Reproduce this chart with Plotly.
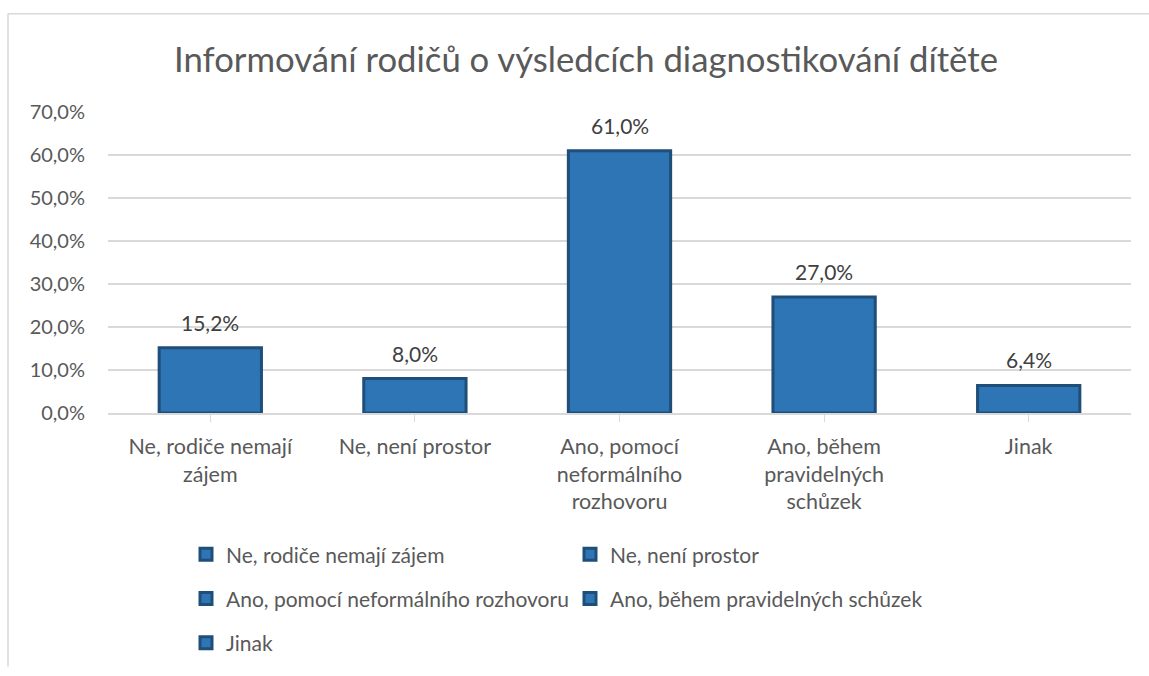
import plotly.graph_objects as go

categories = [
    "Ne, rodiče nemají zájem",
    "Ne, není prostor",
    "Ano, pomocí neformálního rozhovoru",
    "Ano, během pravidelných schůzek",
    "Jinak",
]
tick_labels = [
    "Ne, rodiče nemají<br>zájem",
    "Ne, není prostor",
    "Ano, pomocí<br>neformálního<br>rozhovoru",
    "Ano, během<br>pravidelných<br>schůzek",
    "Jinak",
]
values = [0.152, 0.080, 0.610, 0.270, 0.064]
title_text = "Informování rodičů o výsledcích diagnostikování dítěte"

FONT = "Lato"
GRAY = "#595959"
FILL = "#2E75B6"
EDGE = "#1F4E79"

fig = go.Figure()
legend_ids = ["legend", "legend", "legend2", "legend2", "legend3"]
for i, (cat, val) in enumerate(zip(categories, values)):
    fig.add_trace(go.Bar(
        x=[i], y=[val], name=cat, width=0.5,
        marker=dict(color=FILL, line=dict(color=EDGE, width=3)),
        legend=legend_ids[i], showlegend=True,
        hoverinfo="skip",
    ))
    fig.add_annotation(
        x=i, y=val, text=f"{val*100:.1f}%".replace(".", ","),
        showarrow=False, yanchor="bottom", yshift=11,
        font=dict(family=FONT, size=21, color="#404040"),
    )

W, H = 1149, 676
L, R, T, B = 108, 18, 112, 258
pw = W - L - R

def px_x(px):
    return (px - L) / pw

def px_y(py):
    return (H - B - py) / (H - T - B)

legend_common = dict(
    orientation="h", xanchor="left", yanchor="middle",
    font=dict(family=FONT, size=21, color=GRAY),
    entrywidth=339, entrywidthmode="pixels",
    bgcolor="rgba(0,0,0,0)", itemclick=False, itemdoubleclick=False,
    traceorder="normal",
)

border = dict(color="#D9D9D9", width=1.5)

fig.update_layout(
    width=W, height=H,
    margin=dict(l=L, r=R, t=T, b=B, pad=0),
    paper_bgcolor="white", plot_bgcolor="white",
    separators=", ",
    barmode="overlay",
    showlegend=True,
    title=dict(text=title_text, x=586 / W, xref="container", xanchor="center",
               y=1 - 60 / H, yref="container", yanchor="middle",
               font=dict(family=FONT, size=34.7, color=GRAY)),
    font=dict(family=FONT, color=GRAY),
    xaxis=dict(
        tickmode="array", tickvals=list(range(len(categories))), ticktext=tick_labels,
        range=[-0.5, len(categories) - 0.5],
        showgrid=False, showline=True, linecolor="#D9D9D9", linewidth=1.5,
        ticks="outside", tickson="boundaries", ticklen=7, tickcolor="#D9D9D9",
        tickfont=dict(family=FONT, size=21.5, color=GRAY),
        ticklabelstandoff=6,
        zeroline=False, fixedrange=True,
    ),
    yaxis=dict(
        range=[0, 0.7], dtick=0.1, tickformat=".1%",
        showgrid=True, gridcolor="#D9D9D9", gridwidth=1.5,
        zeroline=False, showline=False, ticks="",
        tickfont=dict(family=FONT, size=20, color=GRAY),
        ticklabelstandoff=22, fixedrange=True,
    ),
    legend=dict(legend_common, x=px_x(186), y=px_y(562)),
    legend2=dict(legend_common, x=px_x(186), y=px_y(607)),
    legend3=dict(legend_common, x=px_x(186), y=px_y(652)),
    shapes=[
        dict(type="line", xref="paper", yref="paper",
             x0=px_x(8), x1=px_x(W), y0=px_y(12), y1=px_y(12),
             line=border, layer="below"),
        dict(type="line", xref="paper", yref="paper",
             x0=px_x(8), x1=px_x(8), y0=px_y(12), y1=px_y(H),
             line=border, layer="below"),
    ],
)

css_fix = (
    "document.documentElement.style.margin='0';"
    "document.documentElement.style.padding='0';"
    "document.documentElement.style.overflow='hidden';"
    "document.body.style.margin='0';"
    "document.body.style.padding='0';"
    "document.body.style.overflow='hidden';"
)
fig.write_html("out.html", config={"displayModeBar": False}, post_script=css_fix)
